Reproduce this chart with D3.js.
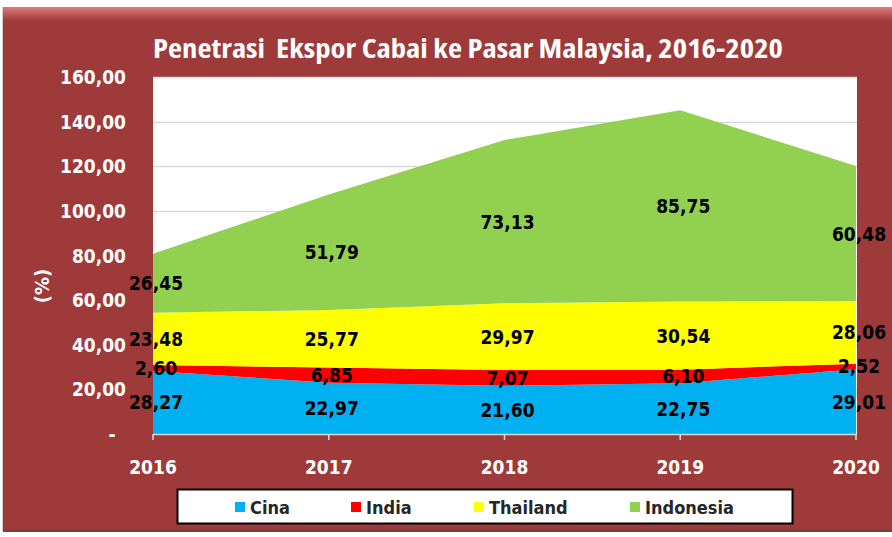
<!DOCTYPE html>
<html>
<head>
<meta charset="utf-8">
<script src="https://cdn.jsdelivr.net/npm/d3@7"></script>
<style>
  html, body { margin: 0; padding: 0; background: #fff; }
  svg { display: block; font-family: "DejaVu Sans Condensed", "DejaVu Sans", Verdana, sans-serif; font-stretch: condensed; }
</style>
</head>
<body>
<svg id="chart" width="892" height="537"></svg>
<script>
const years = ["2016", "2017", "2018", "2019", "2020"];
const seriesNames = ["Cina", "India", "Thailand", "Indonesia"];
const cina = [28.27, 22.97, 21.60, 22.75, 29.01];
const india = [2.60, 6.85, 7.07, 6.10, 2.52];
const thailand = [23.48, 25.77, 29.97, 30.54, 28.06];
const indonesia = [26.45, 51.79, 73.13, 85.75, 60.48];
const yTicks = [0, 20, 40, 60, 80, 100, 120, 140, 160];
const colors = ["#00B0F0", "#FF0000", "#FFFF00", "#92D050"];

const svg = d3.select('#chart');
const W = 892, H = 537;

// frame
const defs = svg.append('defs');
const bevel = defs.append('linearGradient').attr('id', 'bevel')
  .attr('x1', 0).attr('y1', 0).attr('x2', 0).attr('y2', 1);
bevel.append('stop').attr('offset', 0).attr('stop-color', '#e07a7a');
bevel.append('stop').attr('offset', 1).attr('stop-color', '#9e3a3a');

svg.append('rect').attr('x', 3).attr('y', 7).attr('width', W - 3).attr('height', 524)
  .attr('fill', '#9e3a3a');
svg.append('rect').attr('x', 3).attr('y', 7).attr('width', W - 3).attr('height', 14)
  .attr('fill', 'url(#bevel)');
svg.append('line').attr('x1', 2.5).attr('x2', 2.5).attr('y1', 7).attr('y2', 531)
  .attr('stroke', '#cfcfcf');
svg.append('rect').attr('x', 3).attr('y', 529).attr('width', W - 3).attr('height', 3)
  .attr('fill', '#7a4040');

const margin = { left: 153, right: 36, top: 77, bottom: 103 };
const x = d3.scalePoint().domain(years).range([margin.left, W - margin.right]);
const y = d3.scaleLinear().domain([0, 160]).range([H - margin.bottom, margin.top]);

// plot area
svg.append('rect').attr('x', margin.left).attr('y', margin.top)
  .attr('width', W - margin.right - margin.left + 1).attr('height', y(0) - margin.top)
  .attr('fill', '#fff');

svg.append('g').selectAll('line').data(yTicks.filter(d => d > 0)).join('line')
  .attr('x1', margin.left).attr('x2', W - margin.right + 1)
  .attr('y1', d => Math.round(y(d)) + 0.5).attr('y2', d => Math.round(y(d)) + 0.5)
  .attr('stroke', '#d9d9d9').attr('stroke-width', 1.5);

const table = years.map((yr, i) => ({
  year: yr, Cina: cina[i], India: india[i], Thailand: thailand[i], Indonesia: indonesia[i]
}));
const stacked = d3.stack().keys(seriesNames)(table);

const area = d3.area()
  .x(d => x(d.data.year))
  .y0(d => y(d[0]))
  .y1(d => y(d[1]));

svg.append('g').selectAll('path').data(stacked).join('path')
  .attr('d', area)
  .attr('fill', (d, i) => colors[i]);

// axes
svg.append('line').attr('x1', margin.left).attr('x2', W - margin.right + 1)
  .attr('y1', y(0) + 0.5).attr('y2', y(0) + 0.5).attr('stroke', '#d9d9d9').attr('stroke-width', 1.5);
svg.append('g').selectAll('line').data(years).join('line')
  .attr('x1', d => x(d)).attr('x2', d => x(d))
  .attr('y1', y(0)).attr('y2', y(0) + 6)
  .attr('stroke', '#d9d9d9').attr('stroke-width', 1.5);

svg.append('g').selectAll('text').data(yTicks).join('text')
  .attr('x', 126).attr('y', d => y(d) + 7)
  .attr('text-anchor', d => d === 0 ? 'middle' : 'end')
  .attr('dx', d => d === 0 ? -14 : 0)
  .attr('fill', '#fff').attr('font-weight', 'bold').attr('font-size', 19)
  .text(d => d === 0 ? '-' : d3.format('.2f')(d).replace('.', ','));

svg.append('g').selectAll('text').data(years).join('text')
  .attr('x', d => x(d)).attr('y', 474)
  .attr('text-anchor', 'middle')
  .attr('fill', '#fff').attr('font-weight', 'bold').attr('font-size', 19)
  .text(d => d);

svg.append('text')
  .attr('transform', 'translate(49,286) rotate(-90)')
  .attr('text-anchor', 'middle')
  .attr('fill', '#fff').attr('font-weight', 'bold').attr('font-size', 20)
  .text('(%)');

// data labels
const labels = [];
stacked.forEach(s => s.forEach(d => labels.push({
  year: d.data.year, mid: (d[0] + d[1]) / 2, v: d[1] - d[0]
})));
svg.append('g').selectAll('text').data(labels).join('text')
  .attr('x', d => x(d.year) + 3).attr('y', d => y(d.mid) + 7)
  .attr('text-anchor', 'middle')
  .attr('fill', '#000').attr('font-weight', 'bold').attr('font-size', 19)
  .text(d => d3.format('.2f')(d.v).replace('.', ','));

// title
svg.append('text')
  .attr('x', 468).attr('y', 58)
  .attr('text-anchor', 'middle')
  .attr('fill', '#fff').attr('font-weight', 'bold').attr('font-size', 27)
  .attr('font-family', '"Open Sans", sans-serif')
  .style('white-space', 'pre')
  .attr('textLength', 630).attr('lengthAdjust', 'spacingAndGlyphs')
  .text('Penetrasi  Ekspor Cabai ke Pasar Malaysia, 2016-2020');

// legend
const lg = svg.append('g');
lg.append('rect').attr('x', 177.5).attr('y', 489.5).attr('width', 615).attr('height', 34)
  .attr('fill', '#fff').attr('stroke', '#000').attr('stroke-width', 2);
const legendX = [235, 351, 474, 630];
const items = lg.selectAll('g').data(seriesNames).join('g')
  .attr('transform', (d, i) => `translate(${legendX[i]},507)`);
items.append('rect').attr('x', 0).attr('y', -5).attr('width', 10).attr('height', 10)
  .attr('fill', (d, i) => colors[i]);
items.append('text').attr('x', 15).attr('y', 7)
  .attr('fill', '#262626').attr('font-weight', 'bold').attr('font-size', 18)
  .text(d => d);
</script>
</body>
</html>
